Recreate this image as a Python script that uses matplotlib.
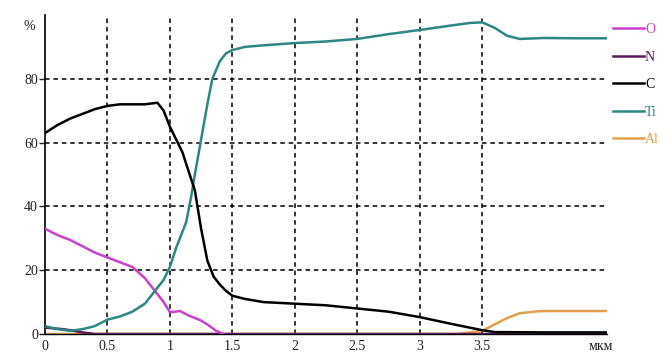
import numpy as np
from matplotlib import pyplot as plt

# depth, um
c_x = [0, 0.1, 0.2, 0.3, 0.4, 0.5, 0.6, 0.7, 0.8, 0.9, 0.95, 1.0, 1.05, 1.1, 1.15,
       1.2, 1.25, 1.3, 1.35, 1.4, 1.45, 1.5, 1.6, 1.75, 2.0, 2.25, 2.5, 2.75, 3.0,
       3.25, 3.5, 3.6, 4.0, 4.5]
c_y = [63, 65.5, 67.5, 69, 70.5, 71.5, 72, 72, 72, 72.5, 70, 65, 61, 57, 51,
       45, 33, 23, 18, 15.5, 13.5, 12, 11, 10, 9.5, 9, 8, 7, 5.3,
       3.2, 1.2, 0.6, 0.5, 0.5]

ti_x = [0, 0.1, 0.2, 0.3, 0.4, 0.5, 0.6, 0.7, 0.8, 0.87, 0.95, 1.0, 1.05, 1.08,
        1.13, 1.17, 1.2, 1.25, 1.3, 1.34, 1.4, 1.45, 1.5, 1.6, 1.75, 2.0, 2.25,
        2.5, 2.75, 3.0, 3.25, 3.4, 3.5, 3.6, 3.7, 3.8, 4.0, 4.25, 4.5]
ti_y = [2.5, 1.5, 1, 1.5, 2.5, 4.5, 5.5, 7, 9.5, 13, 17, 21, 27, 30,
        35, 43, 50, 61, 72, 80, 85.5, 88, 89, 90, 90.5, 91.2, 91.7,
        92.5, 94, 95.3, 96.7, 97.5, 97.7, 96, 93.5, 92.5, 92.8, 92.7, 92.7]

o_x = [0, 0.1, 0.2, 0.3, 0.4, 0.5, 0.6, 0.7, 0.8, 0.87, 0.95, 1.0, 1.08, 1.15,
       1.24, 1.3, 1.37, 1.43]
o_y = [33, 31, 29.5, 27.5, 25.5, 24, 22.5, 21, 17.5, 14, 10, 6.8, 7.2, 5.8,
       4.4, 3, 1, 0]

n_x = [0, 0.15, 0.3, 0.4, 4.5]
n_y = [2, 1.5, 0.5, 0, 0]

al_x = [0, 3.3, 3.5, 3.6, 3.7, 3.8, 3.94, 4.0, 4.5]
al_y = [0, 0, 1, 3, 5, 6.5, 7.1, 7.2, 7.2]

x_ticks = [0, 0.5, 1, 1.5, 2, 2.5, 3, 3.5, 4.45]
x_labels = ['0', '0.5', '1', '1.5', '2', '2.5', '3', '3.5', 'мкм']
y_ticks = [0, 20, 40, 60, 80]

plt.rcParams['font.family'] = ['Liberation Serif', 'DejaVu Serif']

fig = plt.figure(figsize=(6.72, 3.58), dpi=100)
ax = fig.add_axes([45 / 672, 24 / 358, 562 / 672, 319 / 358])

dash = (0, (3, 2.5))
for gx in [0.5, 1, 1.5, 2, 2.5, 3, 3.5]:
    ax.axvline(gx, color='black', lw=1.1, ls=dash, zorder=1)
for gy in [20, 40, 60, 80]:
    ax.axhline(gy, color='black', lw=1.1, ls=dash, zorder=1)

ax.plot(al_x, al_y, color='#e0a050', lw=1.8, label='Al', zorder=2)
ax.plot(n_x, n_y, color='#5a1a5a', lw=1.8, label='N', zorder=3)
ax.plot(o_x, o_y, color='#cc3fcc', lw=1.8, label='O', zorder=4)
ax.plot(ti_x, ti_y, color='#2e8682', lw=1.8, label='Ti', zorder=4)
ax.plot(c_x, c_y, color='black', lw=1.8, label='C', zorder=5)

ax.set_xlim(0, 4.5)
ax.set_ylim(0, 100)
ax.set_xticks(x_ticks)
ax.set_xticklabels(x_labels)
ax.set_yticks(y_ticks)
ax.tick_params(axis='x', length=0, pad=4, labelsize=10, colors='#222222')
ax.tick_params(axis='y', length=4, width=1, pad=1, labelsize=10, colors='#222222')
ax.text(-0.08, 96.5, '%', ha='right', va='center', fontsize=10, color='#222222')

for s in ['top', 'right']:
    ax.spines[s].set_visible(False)
ax.spines['left'].set_linewidth(1.2)
ax.spines['bottom'].set_linewidth(1.0)

h, l = ax.get_legend_handles_labels()
order = ['O', 'N', 'C', 'Ti', 'Al']
hl = {lab: hd for hd, lab in zip(h, l)}
fig.legend([hl[k] for k in order], order, loc='upper left',
           bbox_to_anchor=(606 / 672, 1 - 16 / 358), frameon=False,
           fontsize=10, labelcolor='linecolor', handlelength=2.2,
           handletextpad=0.1, labelspacing=1.05, borderpad=0)

plt.savefig('out.png', dpi=100)
